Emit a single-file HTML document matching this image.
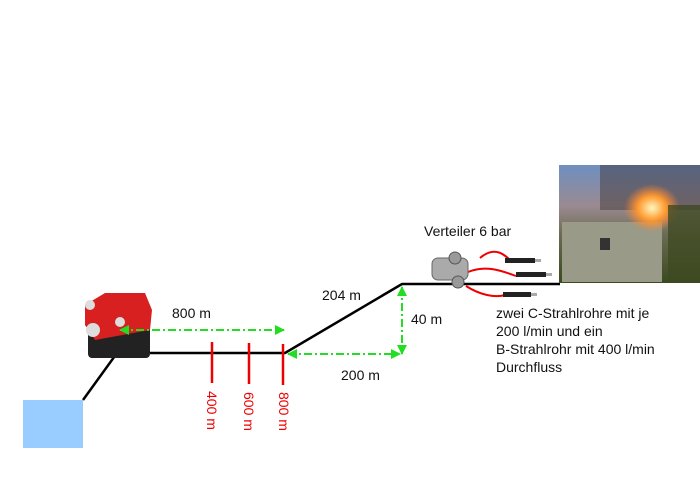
<!DOCTYPE html>
<html><head><meta charset="utf-8"><style>
html,body{margin:0;padding:0;background:#fff;}
svg{display:block;}
text{font-family:"Liberation Sans",sans-serif;font-size:14px;fill:#111;}
</style></head><body>
<svg width="700" height="495" viewBox="0 0 700 495" xmlns="http://www.w3.org/2000/svg">
<defs>
<marker id="ag" markerWidth="10" markerHeight="10" refX="9" refY="5" orient="auto" markerUnits="userSpaceOnUse">
<path d="M0,0 L10,5 L0,10 z" fill="#22dd22"/></marker>
<marker id="ags" markerWidth="10" markerHeight="10" refX="1" refY="5" orient="auto" markerUnits="userSpaceOnUse">
<path d="M10,0 L0,5 L10,10 z" fill="#22dd22"/></marker>
<linearGradient id="sky" x1="0" y1="0" x2="0" y2="1">
<stop offset="0" stop-color="#6f8fc0"/><stop offset="0.35" stop-color="#9a8a90"/><stop offset="0.6" stop-color="#6a6a50"/><stop offset="1" stop-color="#3a4a20"/></linearGradient>
<radialGradient id="fire" cx="0.5" cy="0.5" r="0.5"><stop offset="0" stop-color="#fff8c0"/><stop offset="0.5" stop-color="#ff9a30"/><stop offset="1" stop-color="#ff8030" stop-opacity="0"/></radialGradient>
</defs>
<rect x="23" y="400" width="60" height="48" fill="#99ccff"/>
<polyline points="83,400 117,353 285,353 402,284 560,284" fill="none" stroke="#000" stroke-width="2.5"/>
<!-- photo -->
<rect x="559" y="165" width="141" height="118" fill="url(#sky)"/>
<rect x="600" y="165" width="100" height="45" fill="#3a3030" opacity="0.45"/>
<rect x="562" y="222" width="100" height="60" fill="#9a9a88"/>
<rect x="600" y="238" width="10" height="12" fill="#333"/>
<ellipse cx="652" cy="208" rx="28" ry="24" fill="url(#fire)"/>
<rect x="668" y="205" width="32" height="78" fill="#3e4a22" opacity="0.8"/>
<!-- pump -->
<rect x="88" y="325" width="62" height="33" rx="4" fill="#222"/>
<path d="M85,305 L105,293 L145,293 L152,310 L150,330 L95,340 L85,325 z" fill="#d82020"/>
<circle cx="93" cy="330" r="7" fill="#ddd"/>
<circle cx="90" cy="305" r="5" fill="#ddd"/>
<circle cx="120" cy="322" r="5" fill="#ddd"/>
<!-- distributor -->
<path d="M480,258 C495,245 505,255 512,262" fill="none" stroke="#e00" stroke-width="2"/>
<path d="M468,272 C485,265 500,270 516,276" fill="none" stroke="#e00" stroke-width="2"/>
<path d="M466,286 C480,295 495,298 505,295" fill="none" stroke="#e00" stroke-width="2"/>
<rect x="432" y="258" width="36" height="22" rx="6" fill="#aaa" stroke="#666"/>
<circle cx="458" cy="282" r="6" fill="#999" stroke="#555"/>
<circle cx="455" cy="258" r="6" fill="#999" stroke="#555"/>
<rect x="505" y="258" width="30" height="5" fill="#222"/><rect x="535" y="259" width="6" height="3" fill="#aaa"/>
<rect x="516" y="272" width="30" height="5" fill="#222"/><rect x="546" y="273" width="6" height="3" fill="#aaa"/>
<rect x="503" y="292" width="28" height="5" fill="#222"/><rect x="531" y="293" width="6" height="3" fill="#aaa"/>
<g stroke="#22dd22" stroke-width="2" stroke-dasharray="8,3,2,3" fill="none">
<line x1="120" y1="330" x2="284" y2="330" marker-start="url(#ags)" marker-end="url(#ag)"/>
<line x1="288" y1="354" x2="400" y2="354" marker-start="url(#ags)" marker-end="url(#ag)"/>
<line x1="402" y1="287" x2="402" y2="354" marker-start="url(#ags)" marker-end="url(#ag)"/>
</g>
<g stroke="#ee0000" stroke-width="2.5">
<line x1="212" y1="342" x2="212" y2="383"/>
<line x1="249" y1="343" x2="249" y2="384"/>
<line x1="283" y1="344" x2="283" y2="385"/>
</g>
<text x="207" y="391" transform="rotate(90 207 391)" style="fill:#ee0000">400 m</text>
<text x="244" y="392" transform="rotate(90 244 392)" style="fill:#ee0000">600 m</text>
<text x="279" y="392" transform="rotate(90 279 392)" style="fill:#ee0000">800 m</text>
<text x="172" y="318">800 m</text>
<text x="322" y="300">204 m</text>
<text x="411" y="324">40 m</text>
<text x="341" y="380">200 m</text>
<text x="424" y="236">Verteiler 6 bar</text>
<text x="496" y="318">zwei C-Strahlrohre mit je</text>
<text x="496" y="336">200 l/min und ein</text>
<text x="496" y="354">B-Strahlrohr mit 400 l/min</text>
<text x="496" y="372">Durchfluss</text>
</svg>
</body></html>
